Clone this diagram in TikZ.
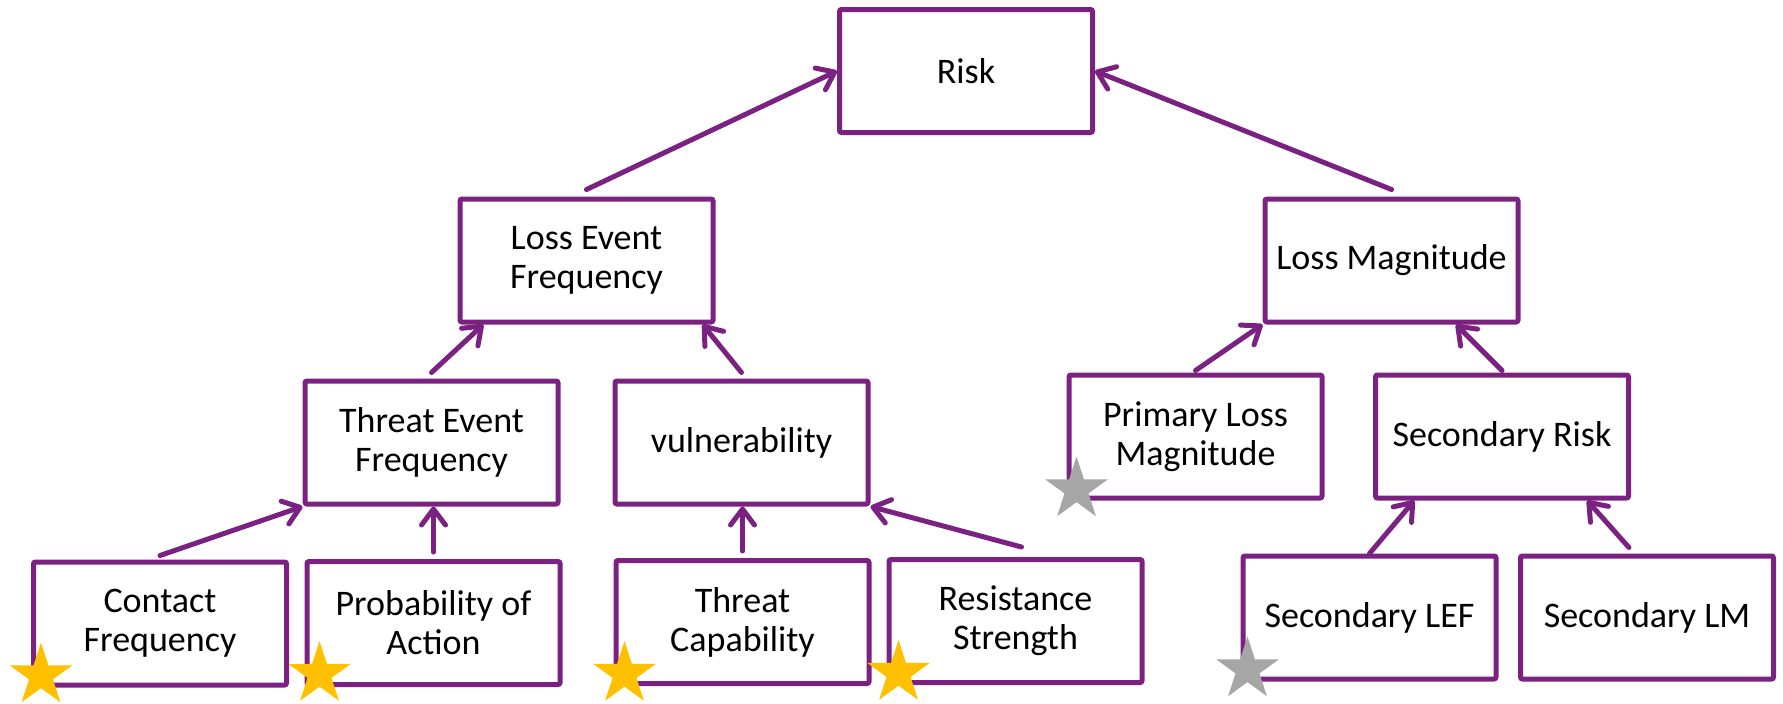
\documentclass[tikz,border=0pt]{standalone}
\usepackage{fontspec}
\setmainfont{Carlito}
\usetikzlibrary{shapes.geometric,arrows.meta,calc}
\definecolor{boxpurple}{HTML}{7A2182}
\definecolor{stargold}{HTML}{FFC000}
\definecolor{stargray}{HTML}{A6A6A6}
\tikzset{
  factor/.style={draw=boxpurple, line width=2.5pt, rounded corners=1pt,
    minimum width=126.5pt, minimum height=61.5pt, align=center,
    inner sep=2pt, font=\fontsize{18}{19.5}\selectfont, text=black},
  arr/.style={draw=boxpurple, line width=2.5pt, line cap=round,
    -{Straight Barb[length=8pt,width=12pt,round]}},
  starmark/.style={star, star points=5, star point ratio=2.618,
    minimum size=33pt, inner sep=0pt, draw=none},
  goldstar/.style={starmark, fill=stargold},
  graystar/.style={starmark, fill=stargray}
}
\begin{document}
\begin{tikzpicture}[x=0.5pt, y=-0.5pt]
  \useasboundingbox (0,0) rectangle (1783,703);

  % top level
  \node[factor] (Risk) at (966,71) {Risk};

  % second level
  \node[factor] (LEF) at (586.5,260.5) {Loss Event\\Frequency};
  \node[factor] (LM)  at (1391.5,260.5) {Loss Magnitude};

  % third level
  \node[factor] (TEF)  at (431.5,442.5) {Threat Event\\Frequency};
  \node[factor] (Vuln) at (741.5,442.5) {vulnerability};
  \node[factor] (PLM)  at (1195.5,436.5) {Primary Loss\\Magnitude};
  \node[factor] (SR)   at (1502,436.5) {Secondary Risk};

  % bottom level
  \node[factor] (CF)   at (160,623.5) {Contact\\Frequency};
  \node[factor] (PoA)  at (433.5,623) {Probability of\\Action};
  \node[factor] (TC)   at (742.5,622) {Threat\\Capability};
  \node[factor] (RS)   at (1015.5,621) {Resistance\\Strength};
  \node[factor] (SLEF) at (1369.5,617.5) {Secondary LEF};
  \node[factor] (SLM)  at (1647,617.5) {Secondary LM};

  % connectors
  \draw[arr] ([yshift=3.5pt]LEF.north) -- (Risk.west);
  \draw[arr] ([yshift=3.5pt]LM.north) -- (Risk.east);
  \draw[arr] ([yshift=3pt]TEF.north) -- ($(LEF.south west)!0.1!(LEF.south east)$);
  \draw[arr] ([yshift=3pt]Vuln.north) -- ($(LEF.south west)!0.95!(LEF.south east)$);
  \draw[arr] ([yshift=1pt]PLM.north) -- (LM.south west);
  \draw[arr] ([yshift=1pt]SR.north) -- ($(LM.south west)!0.75!(LM.south east)$);
  \draw[arr] ([yshift=2pt]CF.north) -- (TEF.south west);
  \draw[arr] ([yshift=3.5pt]PoA.north) -- (PoA.north |- TEF.south);
  \draw[arr] ([yshift=3.5pt]TC.north) -- (TC.north |- Vuln.south);
  \draw[arr] ([xshift=3pt,yshift=5pt]RS.north) -- (Vuln.south east);
  \draw[arr] (SLEF.north) -- ($(SR.south west)!0.16!(SR.south east)$);
  \draw[arr] ([yshift=3pt]$(SLM.north west)!0.43!(SLM.north east)$) -- ($(SR.south west)!0.83!(SR.south east)$);

  % markers on the lower-left corners
  \node[goldstar] (starCF)   at ([xshift=5pt,yshift=6pt]CF.south west) {};
  \node[goldstar] (starPoA)  at ([xshift=7.5pt,yshift=6.5pt]PoA.south west) {};
  \node[goldstar] (starTC)   at ([xshift=5.5pt,yshift=6pt]TC.south west) {};
  \node[goldstar] (starRS)   at ([xshift=6pt,yshift=6pt]RS.south west) {};
  \node[graystar] (starPLM)  at ([xshift=5pt,yshift=5.5pt]PLM.south west) {};
  \node[graystar] (starSLEF) at ([xshift=3.5pt,yshift=6pt]SLEF.south west) {};
\end{tikzpicture}
\end{document}
